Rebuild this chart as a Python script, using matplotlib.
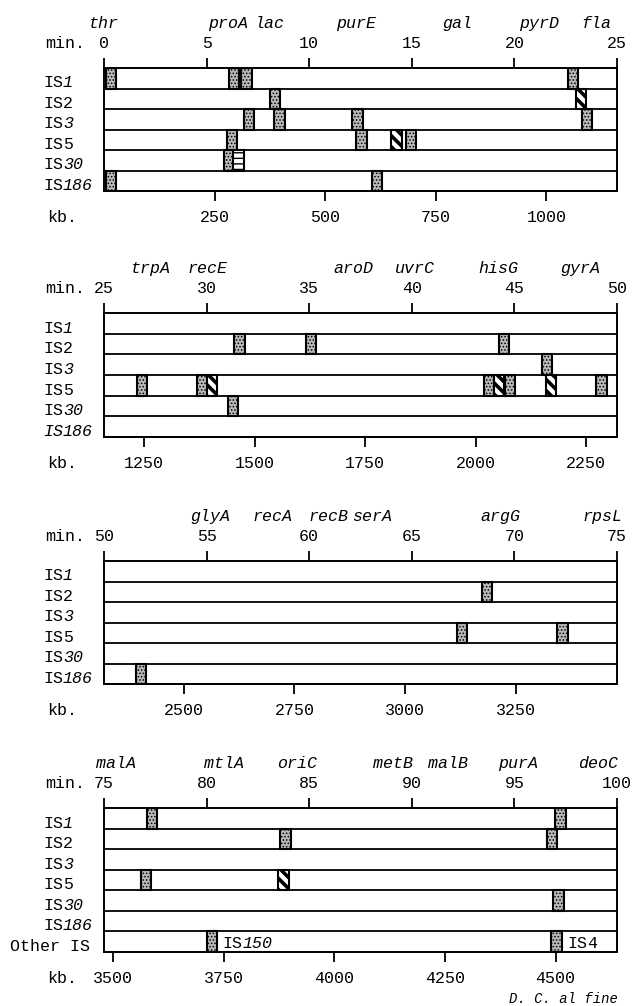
import matplotlib.pyplot as plt
from matplotlib.patches import Rectangle

plt.rcParams['font.family'] = ['Liberation Mono', 'DejaVu Sans Mono']
plt.rcParams['font.size'] = 12

KB_PER_MIN = 46.39

# row labels
rows = ['1', '2', '3', '5', '30', '186']
num_italic = [True, False, True, False, True, True]

# genetic markers on top (name, minutes)
gene_names = ['thr', 'proA', 'lac', 'purE', 'gal', 'pyrD', 'fla',
              'trpA', 'recE', 'aroD', 'uvrC', 'hisG', 'gyrA',
              'glyA', 'recA', 'recB', 'serA', 'argG', 'rpsL',
              'malA', 'mtlA', 'oriC', 'metB', 'malB', 'purA', 'deoC']
gene_min = [0.0, 6.05, 8.05, 12.3, 17.2, 21.2, 24.0,
            27.3, 30.05, 37.15, 40.15, 44.2, 48.2,
            55.2, 58.2, 60.95, 63.05, 69.3, 74.3,
            75.6, 80.85, 84.4, 89.1, 91.75, 95.2, 99.1]

# element start positions (min)
is1_dots = [0.1, 6.1, 6.7, 22.6, 77.1, 97.0]
is2_dots = [8.1, 31.35, 34.85, 44.25, 68.4, 83.6, 96.6]
is2_bars = [23.0]
is3_dots = [6.8, 8.3, 12.1, 23.3, 46.35]
is5_dots = [6.0, 12.3, 14.7, 26.6, 29.55, 43.5, 44.55, 49.0, 67.2, 72.1, 76.8]
is5_bars = [14.0, 30.0, 44.0, 46.55, 83.5]
is30_dots = [5.85, 31.05, 96.9]
is30_lines = [6.3]
is186_dots = [0.1, 13.05, 51.55]
other_dots = [80.0, 96.8]
other_names = [('150', True), ('4', False)]

kb_ticks = list(range(250, 4750, 250))

dots = [is1_dots, is2_dots, is3_dots, is5_dots, is30_dots, is186_dots, other_dots]
bars = [[], is2_bars, [], is5_bars, [], [], []]
lines = [[], [], [], [], is30_lines, [], []]

W = 0.5

fig = plt.figure(figsize=(6.4, 10.06), dpi=100)
H = 1006.0
panels = [(68, 191, 0), (313, 437, 25), (561, 684, 50), (808, 952, 75)]


def box(ax, x, y, kind):
    if kind == 'dots':
        r = Rectangle((x, y), W, 1, facecolor='#b8b8b8', edgecolor='black',
                      lw=1.5, hatch='.....')
        hw = 0.7
    elif kind == 'bars':
        r = Rectangle((x, y), W, 1, facecolor='white', edgecolor='black',
                      lw=1.5, hatch='\\\\\\')
        hw = 2.6
    else:
        r = Rectangle((x, y), W, 1, facecolor='white', edgecolor='black',
                      lw=1.5, hatch='---')
        hw = 1.0
    if hasattr(r, 'set_hatch_linewidth'):
        r.set_hatch_linewidth(hw)
    ax.add_patch(r)


def label(ax, y, pre, num, it_num, it_pre=False, x_off=-44.0, coords=('axes fraction', 'data'), x=0):
    ax.annotate(pre, xy=(x, y), xycoords=coords, xytext=(x_off, 0),
                textcoords='offset points', va='baseline', ha='left',
                style='italic' if it_pre else 'normal', annotation_clip=False)
    ax.annotate(num, xy=(x, y), xycoords=coords, xytext=(x_off + 7.2 * len(pre), 0),
                textcoords='offset points', va='baseline', ha='left',
                style='italic' if it_num else 'normal', annotation_clip=False)


for p, (top, bot, lo) in enumerate(panels):
    hi = lo + 25
    n = 7 if p == 3 else 6
    ax = fig.add_axes([104 / 640, (H - bot) / H, 513 / 640, (bot - top) / H])
    ax.set_xlim(lo, hi)
    ax.set_ylim(n, 0)
    for s in ax.spines.values():
        s.set_linewidth(1.4)
    for i in range(1, n):
        ax.axhline(i, color='black', lw=1.3)

    ax.xaxis.tick_top()
    ax.set_xticks(range(lo, hi + 1, 5))
    ax.tick_params(axis='x', top=True, bottom=False, length=7.2, width=1.3, pad=5)
    ax.set_yticks([])

    sec = ax.secondary_xaxis('bottom', functions=(lambda m: m * KB_PER_MIN,
                                                  lambda k: k / KB_PER_MIN))
    sec.set_xticks([k for k in kb_ticks if lo * KB_PER_MIN < k < hi * KB_PER_MIN])
    sec.tick_params(length=7.2, width=1.3, pad=6.5)
    sec.spines['bottom'].set_linewidth(1.4)

    ax.annotate('min.', xy=(0, 1), xycoords='axes fraction', xytext=(-42.5, 14.4),
                textcoords='offset points', va='baseline', ha='left')
    ax.annotate('kb.', xy=(0, 0), xycoords='axes fraction', xytext=(-41, -22.3),
                textcoords='offset points', va='baseline', ha='left')

    for g, m in zip(gene_names, gene_min):
        if lo <= m < hi:
            ax.annotate(g, xy=(m, 1), xycoords=('data', 'axes fraction'),
                        xytext=(0, 28.8), textcoords='offset points',
                        va='baseline', ha='center', style='italic')

    for i in range(n):
        for x in dots[i]:
            if lo <= x < hi:
                box(ax, x, i, 'dots')
        for x in bars[i]:
            if lo <= x < hi:
                box(ax, x, i, 'bars')
        for x in lines[i]:
            if lo <= x < hi:
                box(ax, x, i, 'lines')

    for i in range(6):
        label(ax, i + 0.95, 'IS', rows[i], num_italic[i], it_pre=(p == 1 and i == 5))
    if p == 3:
        ax.annotate('Other IS', xy=(0, 6.95), xycoords=('axes fraction', 'data'),
                    xytext=(-68, 0), textcoords='offset points', va='baseline', ha='left')
        for x, (num, it) in zip(other_dots, other_names):
            label(ax, 6.8, 'IS', num, it, x_off=4, coords='data', x=x + W)

fig.text(618 / 640, 3 / H, 'D. C. al fine', ha='right', va='baseline',
         style='italic', fontsize=10)

fig.savefig('out.png', dpi=100)
